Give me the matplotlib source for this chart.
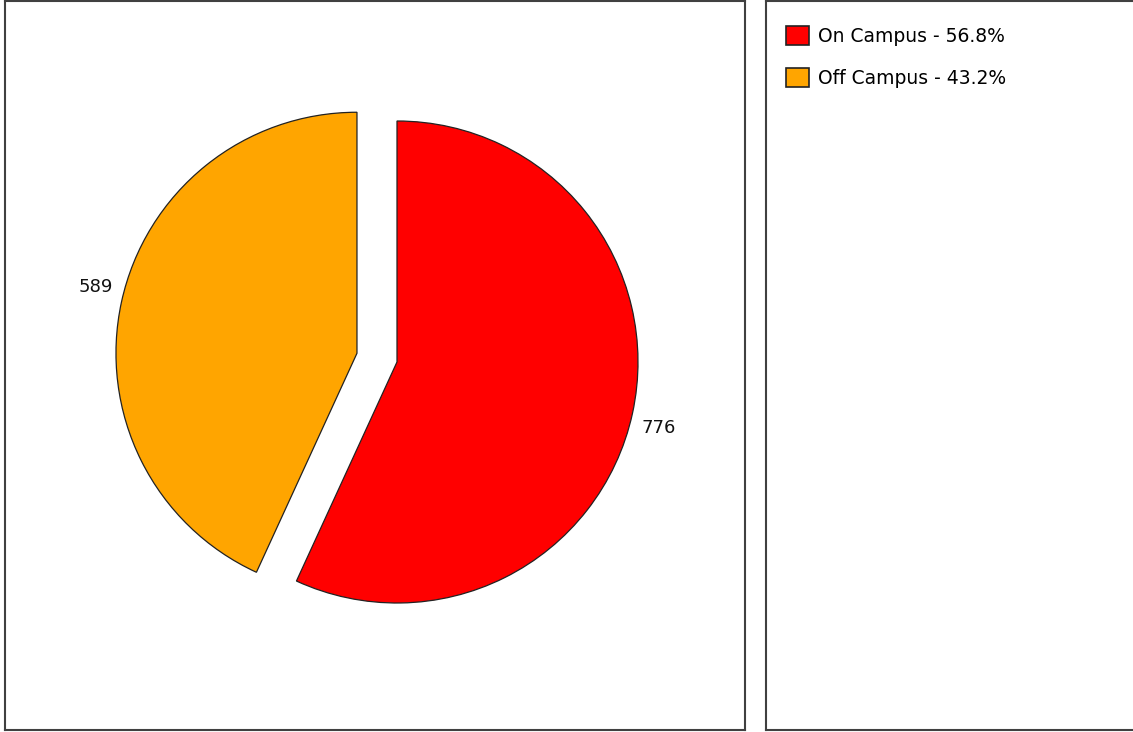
#!/usr/bin/env python
import numpy as np
import matplotlib
matplotlib.use('Agg')
import matplotlib.pyplot as plt

categories = ['On Campus', 'Off Campus']
counts = [776, 589]
colors = ['#FF0000', '#FFA500']
explode = [0.0, 0.17]


def style_panel(ax):
    ax.set_frame_on(True)
    ax.set_xticks([])
    ax.set_yticks([])
    for s in ax.spines.values():
        s.set_visible(True)
        s.set_color('#404040')
        s.set_linewidth(1.5)


def main():
    fig = plt.figure(figsize=(11.33, 7.32), dpi=100)
    W, H = 1133.0, 732.0
    plt.rcParams['font.family'] = 'DejaVu Sans'

    # left panel with the pie, sized in pixels
    left, right, top, bottom = 5, 745, 1, 730
    ax = fig.add_axes([left / W, 1 - bottom / H, (right - left) / W, (bottom - top) / H])
    cx, cy, r = 397.0, 362.0, 241.0
    wedges, texts = ax.pie(counts, labels=[str(c) for c in counts], colors=colors,
                           explode=explode, startangle=90, counterclock=False,
                           labeldistance=1.05,
                           wedgeprops=dict(edgecolor='#222222', linewidth=0.9),
                           textprops=dict(fontsize=13, color='#111111'))
    # labels sit a little clockwise of the wedge middle
    shift = np.deg2rad(-2.8)
    for w, t in zip(wedges, texts):
        ox, oy = w.center
        x, y = t.get_position()
        dx, dy = x - ox, y - oy
        t.set_position((ox + dx * np.cos(shift) - dy * np.sin(shift),
                        oy + dx * np.sin(shift) + dy * np.cos(shift)))
    ax.set_aspect('auto')
    ax.set_xlim((left - cx) / r, (right - cx) / r)
    ax.set_ylim((cy - bottom) / r, (cy - top) / r)
    style_panel(ax)

    # right panel with the legend
    lax = fig.add_axes([766 / W, 1 - bottom / H, (1140 - 766) / W, (bottom - top) / H])
    style_panel(lax)
    total = sum(counts)
    labels = ['{} - {:.1f}%'.format(c, 100.0 * v / total) for c, v in zip(categories, counts)]
    handles = [plt.Rectangle((0, 0), 1, 1, facecolor=col, edgecolor='#222222', linewidth=1.2)
               for col in colors]
    lax.legend(handles, labels, loc='upper left', bbox_to_anchor=(786 / W, 1 - 26 / H),
               bbox_transform=fig.transFigure,
               frameon=False, fontsize=13.5, handlelength=1.2, handleheight=1.2,
               handletextpad=0.5, labelspacing=1.17, borderaxespad=0, borderpad=0)

    fig.savefig('out.png', dpi=100)


if __name__ == '__main__':
    main()
